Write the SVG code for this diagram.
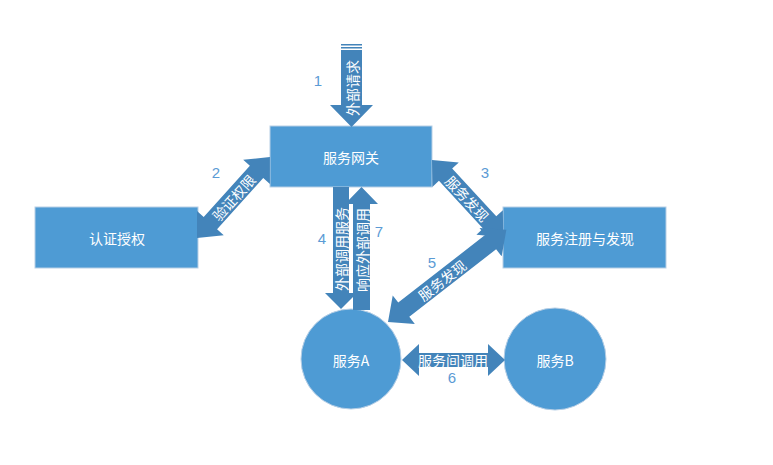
<svg xmlns="http://www.w3.org/2000/svg" width="773" height="465" viewBox="0 0 773 465">
<style>
.node{fill:#4E9BD4;stroke:#B7CFE6;stroke-width:1}
.arrow{fill:#4384BA}
.nt{font-family:"Noto Sans CJK SC","Noto Sans",sans-serif;font-size:14px;fill:#FFFFFF;text-anchor:middle;dominant-baseline:central}
.at{font-family:"Noto Sans CJK SC","Noto Sans",sans-serif;font-size:14px;fill:#FFFFFF;text-anchor:middle;dominant-baseline:central}
.num{font-family:"Liberation Sans","Noto Sans",sans-serif;font-size:15px;fill:#5B9BD5;text-anchor:middle;dominant-baseline:central}
</style>
<rect width="773" height="465" fill="#FFFFFF"/>
<g id="gateway">
<rect class="node" x="270" y="126" width="162" height="61"/>
<text class="nt" x="351" y="157">服务网关</text>
</g>
<g id="auth">
<rect class="node" x="35" y="207" width="163" height="61"/>
<text class="nt" x="117" y="238">认证授权</text>
</g>
<g id="registry">
<rect class="node" x="503" y="207" width="163" height="61"/>
<text class="nt" x="585" y="238">服务注册与发现</text>
</g>
<g id="serviceA">
<circle class="node" cx="351" cy="359" r="50"/>
<text class="nt" x="351" y="360">服务A</text>
</g>
<g id="serviceB">
<circle class="node" cx="555" cy="359" r="51"/>
<text class="nt" x="555" y="360">服务B</text>
</g>
<g id="connectors">
<g id="arrow1">
<rect class="arrow" x="341" y="44" width="21" height="1.5"/>
<rect class="arrow" x="341" y="47" width="21" height="1.5"/>
<path class="arrow" d="M341,50 L362,50 L362,105 L373,105 L351.5,127 L330,105 L341,105 Z"/>
<text class="at" transform="translate(352,88) rotate(-90)">外部请求</text>
<text class="num" x="318" y="80">1</text>
</g>
<g id="arrow2" >
<path class="arrow" transform="translate(197,238) rotate(-48)" d="M0,0 L20,-18 L20,-9 L89,-9 L89,-18 L109,0 L89,18 L89,9 L20,9 L20,18 Z"/>
<text class="at" transform="translate(233.5,197.5) rotate(-48)">验证权限</text>
<text class="num" x="216" y="172">2</text>
</g>
<g id="arrow3">
<path class="arrow" transform="translate(432,160) rotate(47.3)" d="M0,0 L20,-18 L20,-9 L85,-9 L85,-18 L105,0 L85,18 L85,9 L20,9 L20,18 Z"/>
<text class="at" transform="translate(467.5,198.5) rotate(47.3)">服务发现</text>
<text class="num" x="485" y="172">3</text>
</g>
<g id="arrow4">
<path class="arrow" d="M333,187 L349,187 L349,293 L357,293 L341,309 L325,293 L333,293 Z"/>
<text class="at" transform="translate(341,249) rotate(-90)">外部调用服务</text>
<text class="num" x="322" y="238">4</text>
</g>
<g id="arrow7">
<path class="arrow" d="M353,310 L370,310 L370,204 L378,204 L361.5,187 L345,204 L353,204 Z"/>
<text class="at" transform="translate(361.5,250) rotate(-90)">响应外部调用</text>
<text class="num" x="379" y="231">7</text>
</g>
<g id="arrow5">
<path class="arrow" transform="translate(388,322) rotate(-37.9)" d="M0,0 L20,-18 L20,-9 L130,-9 L130,-18 L150,0 L130,18 L130,9 L20,9 L20,18 Z"/>
<text class="at" transform="translate(442,280) rotate(-37.9)">服务发现</text>
<text class="num" x="432" y="262">5</text>
</g>
<g id="arrow6">
<path class="arrow" d="M402,360 L419,344 L419,353 L488,353 L488,344 L505,360 L488,376 L488,367 L419,367 L419,376 Z"/>
<text class="at" x="453" y="360">服务间调用</text>
<text class="num" x="452" y="377">6</text>
</g>
</g>
</svg>
